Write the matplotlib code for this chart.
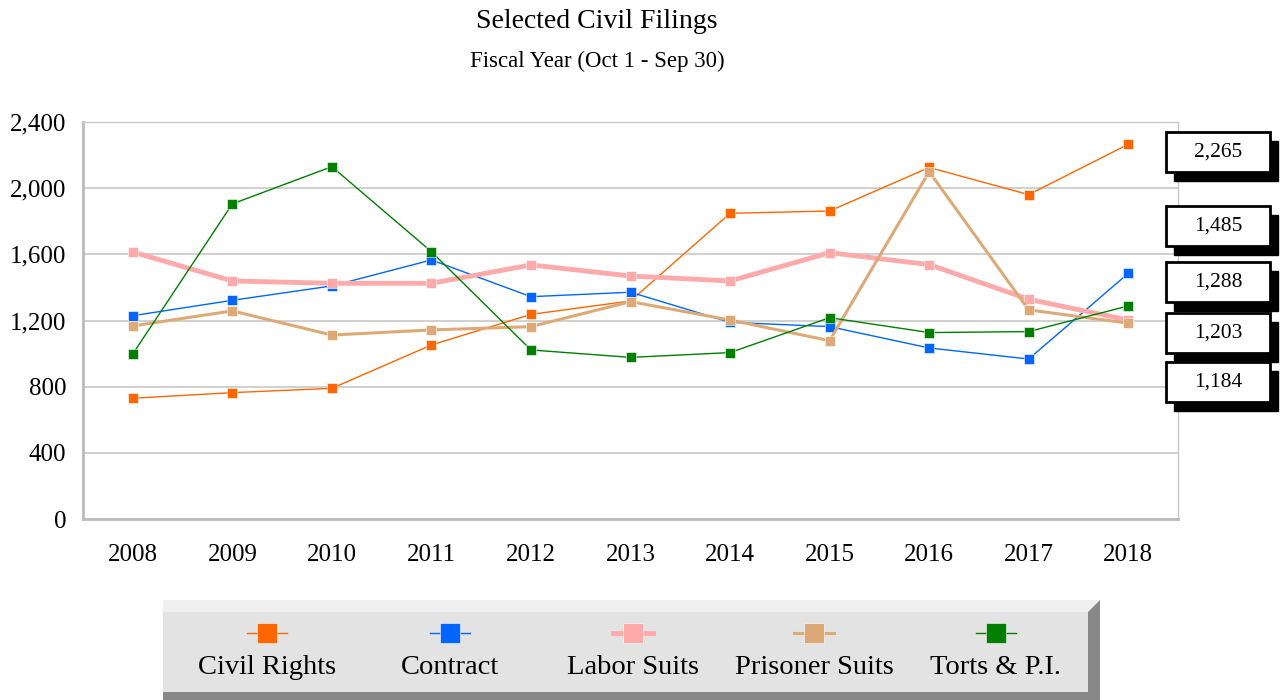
import matplotlib
matplotlib.use("Agg")
import matplotlib.pyplot as plt
from matplotlib.patches import Rectangle, Polygon

plt.rcParams['font.family'] = ['Liberation Serif', 'DejaVu Serif']

years = ['2008', '2009', '2010', '2011', '2012', '2013', '2014', '2015', '2016', '2017', '2018']
civil_rights = [730, 764, 790, 1052, 1237, 1318, 1848, 1862, 2125, 1961, 2265]
contract = [1229, 1322, 1409, 1566, 1344, 1371, 1189, 1163, 1034, 967, 1485]
labor_suits = [1614, 1439, 1425, 1425, 1536, 1469, 1439, 1610, 1538, 1328, 1203]
prisoner_suits = [1167, 1258, 1112, 1143, 1163, 1314, 1203, 1078, 2100, 1264, 1184]
torts_pi = [998, 1905, 2130, 1616, 1022, 977, 1006, 1217, 1127, 1133, 1288]

series_names = ['Civil Rights', 'Contract', 'Labor Suits', 'Prisoner Suits', 'Torts & P.I.']
series_values = [civil_rights, contract, labor_suits, prisoner_suits, torts_pi]
colors = ['#FF6600', '#0066FF', '#FFAAAA', '#DDAA77', '#007F00']
widths = [1.0, 1.0, 3.5, 2.2, 1.0]
yticks = [0, 400, 800, 1200, 1600, 2000, 2400]
ytick_labels = ['0', '400', '800', '1,200', '1,600', '2,000', '2,400']

W, H = 1285, 700
fig = plt.figure(figsize=(W / 100, H / 100), dpi=100)
ax = fig.add_axes([83 / W, 1 - 519 / H, (1178 - 83) / W, (519 - 122) / H])

x = list(range(len(years)))
for vals, c, lw in zip(series_values, colors, widths):
    ax.plot(x, vals, color=c, lw=lw, marker='s', ms=7.5, mec='white', mew=0.4,
            mfc=c, zorder=3)

ax.set_xlim(-0.5, len(years) - 0.5)
ax.set_ylim(0, 2400)
ax.set_yticks(yticks)
ax.set_yticklabels(ytick_labels, fontsize=18)
ax.set_xticks(x)
ax.set_xticklabels(years, fontsize=18)
ax.tick_params(length=0, pad=12)
ax.tick_params(axis='x', pad=18)
ax.grid(axis='y', color='#c8c8c8', lw=1.2)
ax.set_axisbelow(True)
for side in ['top', 'right']:
    ax.spines[side].set_color('#c8c8c8')
    ax.spines[side].set_linewidth(1.0)
for side in ['left', 'bottom']:
    ax.spines[side].set_color('#bbbbbb')
    ax.spines[side].set_linewidth(2.0)

fig.text(597 / W, 1 - 21 / H, 'Selected Civil Filings', ha='center', va='center', fontsize=20)
fig.text(597 / W, 1 - 61 / H, 'Fiscal Year (Oct 1 - Sep 30)', ha='center', va='center', fontsize=16.5)

# overlay in pixel coordinates
ov = fig.add_axes([0, 0, 1, 1], zorder=5)
ov.set_xlim(0, W)
ov.set_ylim(H, 0)
ov.axis('off')
ov.patch.set_alpha(0)

# end-value label boxes
label_values = [civil_rights[-1], contract[-1], torts_pi[-1], labor_suits[-1], prisoner_suits[-1]]
label_tops = [132, 206, 262, 313, 362]
for v, top in zip(label_values, label_tops):
    bx, bw, bh = 1166, 104, 40
    ov.add_patch(Rectangle((bx + 8, top + 9), bw, bh, facecolor='black', edgecolor='black', zorder=1))
    ov.add_patch(Rectangle((bx, top), bw, bh, facecolor='white', edgecolor='black', lw=2, zorder=2))
    ov.text(bx + bw / 2, top + bh / 2, f'{v:,}', ha='center', va='center', fontsize=15.5, zorder=3)

# legend with bevel
lx0, lx1, ly0, ly1 = 163, 1088, 612, 700
ov.add_patch(Polygon([(lx0, ly0), (lx0 + 0, 600), (lx1 + 12, 600), (lx1, ly0)],
                     closed=True, facecolor='#f0f0f0', edgecolor='none'))
ov.add_patch(Polygon([(lx1, ly0), (lx1 + 12, 600), (lx1 + 12, 700), (lx1, 700)],
                     closed=True, facecolor='#888888', edgecolor='none'))
ov.add_patch(Rectangle((lx0, ly0), lx1 - lx0, ly1 - ly0, facecolor='#e3e3e3', edgecolor='none'))
ov.add_patch(Rectangle((lx0, 692), lx1 - lx0 + 12, 8, facecolor='#888888', edgecolor='none'))
leg_x = [267, 450, 633, 814, 996]
for name, c, lw, lxp in zip(series_names, colors, widths, leg_x):
    ov.plot([lxp - 20, lxp + 20], [633, 633], color=c, lw=lw)
    ov.plot([lxp], [633], marker='s', ms=15, color=c, mec='white', mew=0.4)
    ov.text(lxp, 668, name, ha='center', va='center', fontsize=20.5)

fig.savefig('out.png', dpi=100, facecolor='white')
